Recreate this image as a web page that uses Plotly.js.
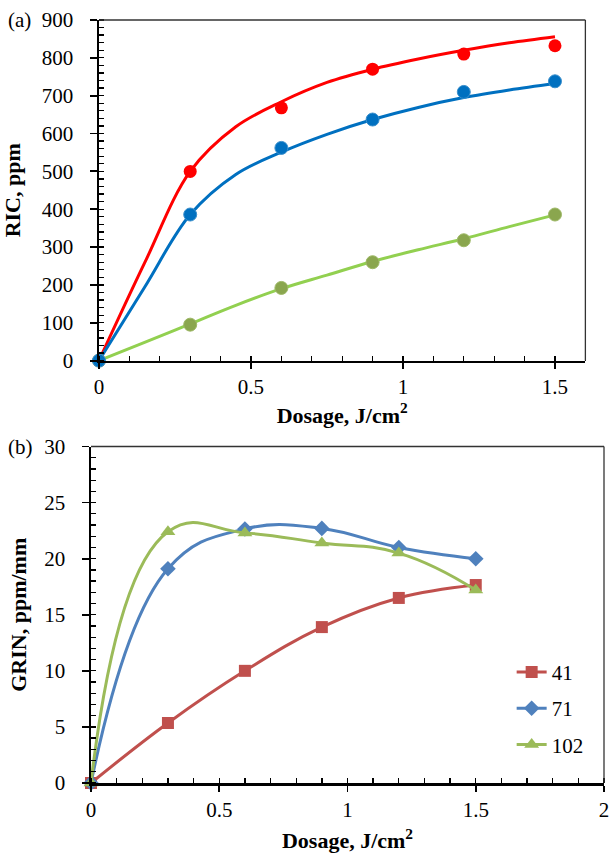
<!DOCTYPE html>
<html>
<head>
<meta charset="utf-8">
<script src="https://cdn.plot.ly/plotly-3.0.1.min.js"></script>
<style>html,body{margin:0;padding:0;background:#fff;}#chart{width:611px;height:853px;}</style>
</head>
<body>
<div id="chart"></div>
<script>
// ---- Panel (a): RIC vs dosage ----
const dose = [0, 0.3, 0.6, 0.9, 1.2, 1.5];
const ricRed   = [0, 500, 668, 770, 810, 832];
const ricBlue  = [0, 386, 562, 637, 710, 738];
const ricGreen = [0, 95, 192, 260, 318, 386];
// fitted trend curves
const fitX     = [0, 0.15, 0.3, 0.45, 0.6, 0.75, 0.9, 1.05, 1.2, 1.35, 1.5];
const fitRed   = [0, 258, 500, 618, 684, 735, 770, 797, 820, 840, 856];
const fitBlue  = [0, 194, 386, 492, 551, 598, 637, 669, 695, 715, 732];
const fitGreen = [0, 48, 97, 146, 190, 226, 262, 293, 322, 354, 385];

// ---- Panel (b): GRIN vs dosage ----
const seriesNames = ['41', '71', '102'];
const grin41  = [0, 5.35, 10.0, 13.9, 16.5, 17.65];
const grin71  = [0, 19.1, 22.65, 22.7, 21.0, 20.0];
const grin102 = [0, 22.4, 22.3, 21.4, 20.5, 17.2];

const serif = 'Liberation Serif';
const traces = [
  {x: fitX, y: fitRed, mode: 'lines', line: {color: '#FF0000', width: 3, shape: 'spline', smoothing: 1}, xaxis: 'x', yaxis: 'y', showlegend: false, hoverinfo: 'skip'},
  {x: fitX, y: fitBlue, mode: 'lines', line: {color: '#0070C0', width: 3, shape: 'spline', smoothing: 1}, xaxis: 'x', yaxis: 'y', showlegend: false, hoverinfo: 'skip'},
  {x: fitX, y: fitGreen, mode: 'lines', line: {color: '#92D050', width: 3, shape: 'spline', smoothing: 1}, xaxis: 'x', yaxis: 'y', showlegend: false, hoverinfo: 'skip'},
  {x: dose, y: ricRed, mode: 'markers', marker: {color: '#FF0000', size: 13}, xaxis: 'x', yaxis: 'y', showlegend: false, cliponaxis: false},
  {x: dose, y: ricGreen, mode: 'markers', marker: {color: '#8AA64E', size: 13, line: {color: '#9DB865', width: 1}}, xaxis: 'x', yaxis: 'y', showlegend: false, cliponaxis: false},
  {x: dose, y: ricBlue, mode: 'markers', marker: {color: '#0070C0', size: 13, line: {color: '#3A8FCC', width: 1}}, xaxis: 'x', yaxis: 'y', showlegend: false, cliponaxis: false},
  {x: dose, y: grin41, name: seriesNames[0], legendgroup: 'a', mode: 'lines+markers', line: {color: '#C0504D', width: 3, shape: 'spline', smoothing: 1.1}, marker: {symbol: 'square', size: 12, color: '#C0504D'}, xaxis: 'x2', yaxis: 'y2', cliponaxis: false},
  {x: dose, y: grin71, name: seriesNames[1], legendgroup: 'b', mode: 'lines+markers', line: {color: '#4F81BD', width: 3, shape: 'spline', smoothing: 1.2}, marker: {symbol: 'diamond', size: 12, color: '#4F81BD'}, xaxis: 'x2', yaxis: 'y2', cliponaxis: false},
  {x: dose, y: grin102, name: seriesNames[2], legendgroup: 'c', mode: 'lines+markers', line: {color: '#9BBB59', width: 3, shape: 'spline', smoothing: 1.3}, marker: {symbol: 'triangle-up', size: 13, color: '#9BBB59'}, xaxis: 'x2', yaxis: 'y2', cliponaxis: false}
];

function xAx(domain, range, anchor, standoff) {
  return {domain: domain, range: range, anchor: anchor, dtick: 0.5, tick0: 0,
    showgrid: false, zeroline: false, showline: true, linecolor: '#000', linewidth: 2.5,
    ticks: 'outside', ticklen: 6, tickwidth: 1.8, tickcolor: '#000', ticklabelstandoff: 0,
    tickfont: {family: serif, size: 21, color: '#000'},
    minor: {dtick: 0.1, ticks: 'inside', ticklen: 5, tickwidth: 1.3, tickcolor: '#000', showgrid: false},
    title: {text: 'Dosage, J/cm<sup>2</sup>', font: {family: serif, size: 22, color: '#000', weight: 'bold'}, standoff: standoff}};
}
function yAx(domain, range, dtick, minorD, anchor, title, standoff) {
  return {domain: domain, range: range, anchor: anchor, dtick: dtick, tick0: 0,
    showgrid: false, zeroline: false, showline: true, linecolor: '#000', linewidth: 2.5,
    ticks: 'outside', ticklen: 7, tickwidth: 1.8, tickcolor: '#000', ticklabelstandoff: 12,
    tickfont: {family: serif, size: 21, color: '#000'},
    minor: {dtick: minorD, ticks: 'inside', ticklen: 5, tickwidth: 1.3, tickcolor: '#000', showgrid: false},
    title: {text: title, font: {family: serif, size: 22, color: '#000', weight: 'bold'}, standoff: standoff}};
}

const layout = {
  width: 611, height: 853,
  margin: {l: 91, r: 7, t: 20, b: 70},
  paper_bgcolor: '#fff', plot_bgcolor: '#fff',
  font: {family: serif, color: '#000'},
  xaxis: xAx([0.0156, 0.9637], [0, 1.6], 'y', 5),
  yaxis: yAx([0.5536, 1.0], [0, 900], 100, 20, 'x', 'RIC, ppm', 16),
  xaxis2: xAx([0, 1], [0, 2], 'y2', 12),
  yaxis2: yAx([0, 0.441], [0, 30], 5, 1, 'x2', 'GRIN, ppm/mm', 12),
  showlegend: true,
  legend: {x: 0.82, y: 0.172, xanchor: 'left', yanchor: 'top', bgcolor: 'rgba(0,0,0,0)',
    font: {family: serif, size: 21, color: '#000'}, tracegroupgap: 6, itemwidth: 30},
  shapes: [
    {type: 'line', xref: 'x domain', yref: 'y domain', x0: 0, x1: 1, y0: 1, y1: 1, line: {color: '#333', width: 1.3}},
    {type: 'line', xref: 'x domain', yref: 'y domain', x0: 1, x1: 1, y0: 0, y1: 1, line: {color: '#333', width: 1.3}},
    {type: 'line', xref: 'x2 domain', yref: 'y2 domain', x0: 0, x1: 1, y0: 1, y1: 1, line: {color: '#333', width: 1.3}},
    {type: 'line', xref: 'x2 domain', yref: 'y2 domain', x0: 1, x1: 1, y0: 0, y1: 1, line: {color: '#333', width: 1.3}}
  ],
  annotations: [
    {text: '(a)', xref: 'paper', yref: 'paper', x: -0.165, y: 1.0, xanchor: 'left', yanchor: 'middle', showarrow: false, font: {family: serif, size: 21, color: '#000'}},
    {text: '(b)', xref: 'paper', yref: 'paper', x: -0.165, y: 0.441, xanchor: 'left', yanchor: 'middle', showarrow: false, font: {family: serif, size: 21, color: '#000'}}
  ]
};

Plotly.newPlot('chart', traces, layout, {displayModeBar: false, staticPlot: true});
</script>
</body>
</html>
